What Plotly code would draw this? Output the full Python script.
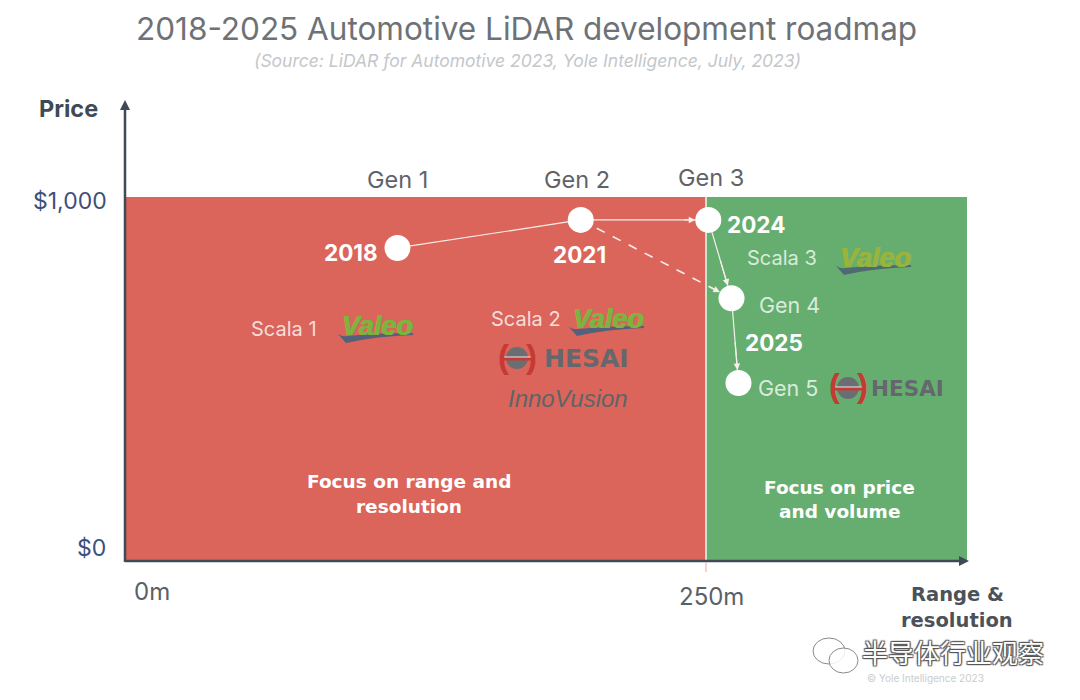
import plotly.graph_objects as go

W, H = 1080, 700
FONT = "Inter, Lato, sans-serif"
WIDE = "DejaVu Sans"

zone_names = ["Focus on range and resolution", "Focus on price and volume"]
zone_start_m = [0, 250]
zone_end_m = [250, 362.5]
zone_price = [1000, 1000]
zone_colors = ["#DB655B", "#66AE70"]

node_names = ["Gen 1", "Gen 2", "Gen 3", "Gen 4", "Gen 5"]
node_range_m = [117, 196, 251, 261, 264]
node_price = [860, 937, 937, 722, 489]

price_ticks = ["$1,000", "$0"]
range_ticks = ["0m", "250m"]

# data -> figure mapping: 0 m at px 126, 250 m at px 706; $0 at px 561, $1,000 at px 197
X_PER_PX = 250 / 580
Y_PER_PX = 1000 / 364
x_range = [-126 * X_PER_PX, (W - 126) * X_PER_PX]
y_range = [(561 - H) * Y_PER_PX, 561 * Y_PER_PX]

fig = go.Figure()
fig.add_trace(go.Bar(
    x=[(a + b) / 2 for a, b in zip(zone_start_m, zone_end_m)],
    width=[b - a for a, b in zip(zone_start_m, zone_end_m)],
    y=zone_price, marker=dict(color=zone_colors, line_width=0),
    hoverinfo="skip", showlegend=False))

# white separator
fig.add_trace(go.Scatter(x=[250, 250], y=[0, 1000], mode="lines",
                         line=dict(color="#F3F7F2", width=1.5), showlegend=False, hoverinfo="skip"))
# links
for i, j, dash in [(0, 1, "solid"), (1, 2, "solid"), (2, 3, "solid"), (3, 4, "solid"), (1, 3, "dash")]:
    fig.add_trace(go.Scatter(x=[node_range_m[i], node_range_m[j]], y=[node_price[i], node_price[j]],
                             mode="lines", line=dict(color="#F6EFEA", width=1.2 if dash == "solid" else 1.6, dash=dash),
                             showlegend=False, hoverinfo="skip"))
fig.add_trace(go.Scatter(x=node_range_m, y=node_price, mode="markers", text=node_names,
                         marker=dict(color="white", size=26), showlegend=False, hoverinfo="text"))

ann, shp = [], []


def px(x):
    return x / W


def py(y):
    return 1 - y / H


def txt(cx, cy, s, size, color, bold=False, italic=False, family=FONT, anchor="center", shadow=None):
    t = s
    if bold:
        t = f"<b>{t}</b>"
    if italic:
        t = f"<i>{t}</i>"
    f = dict(size=size, color=color, family=family)
    if shadow:
        f["shadow"] = shadow
    ann.append(dict(x=px(cx), y=py(cy), xref="paper", yref="paper", text=t, showarrow=False,
                    xanchor=anchor, yanchor="middle", font=f, align="center", borderpad=0, borderwidth=0))


def arrow(i, j, frac=0.0, color="#F6EFEA"):
    x0 = node_range_m[i] + (node_range_m[j] - node_range_m[i]) * frac
    y0 = node_price[i] + (node_price[j] - node_price[i]) * frac
    ann.append(dict(x=node_range_m[j], y=node_price[j], ax=x0, ay=y0, xref="x", yref="y", axref="x", ayref="y",
                    text="", showarrow=True, arrowhead=2, arrowsize=1.1, arrowwidth=1.2, arrowcolor=color, standoff=13))


arrow(1, 2, 0.8)
arrow(2, 3, 0.5)
arrow(3, 4, 0.5)
arrow(1, 3, 0.85)


def line(x0, y0, x1, y1, color, width):
    shp.append(dict(type="line", xref="paper", yref="paper", x0=px(x0), y0=py(y0), x1=px(x1), y1=py(y1),
                    line=dict(color=color, width=width)))


AXIS = "#3E4A56"
line(125, 562, 125, 108, AXIS, 2.5)
line(125, 561, 962, 561, AXIS, 2.5)
line(706, 562, 706, 572, "#E9A9A3", 1)
for path, col in [(f"M {px(120)} {py(110)} L {px(125)} {py(100)} L {px(130)} {py(110)} Z", AXIS),
                  (f"M {px(959)} {py(556)} L {px(969)} {py(561)} L {px(959)} {py(566)} Z", AXIS)]:
    shp.append(dict(type="path", xref="paper", yref="paper", path=path, fillcolor=col, line_width=0))

# titles
txt(526, 28, "2018-2025 Automotive LiDAR development roadmap", 31.5, "#6E7276")
txt(527, 60, "(Source: LiDAR for Automotive 2023, Yole Intelligence, July, 2023)", 17.5, "#C4C7CA", italic=True)
txt(68, 109, "Price", 23.5, "#3E4A56", bold=True)

# ticks
txt(70, 201, price_ticks[0], 23, "#3D5079")
txt(91, 548, price_ticks[1], 23, "#3D5079")
txt(152, 591, range_ticks[0], 24, "#5A6068")
txt(711, 596, range_ticks[1], 24, "#5A6068")
txt(957, 594, "Range &", 19.5, "#4A525A", bold=True, family=WIDE)
txt(957, 620, "resolution", 19.5, "#4A525A", bold=True, family=WIDE)

# generation labels
txt(397, 180, "Gen 1", 23.5, "#5F6368")
txt(577, 179, "Gen 2", 23.5, "#5F6368")
txt(711, 178, "Gen 3", 23.5, "#5F6368")
txt(789, 305, "Gen 4", 21.5, "#D9EBDB")
txt(788, 388, "Gen 5", 21.5, "#D9EBDB")

# years
txt(351, 252, "2018", 22.5, "white", bold=True)
txt(579, 254, "2021", 22.5, "white", bold=True)
txt(756, 224, "2024", 22.5, "white", bold=True)
txt(774, 342, "2025", 22.5, "white", bold=True)

# scala labels
txt(284, 329, "Scala 1", 20, "#F6DDD9")
txt(526, 319, "Scala 2", 20, "#F6DDD9")
txt(782, 258, "Scala 3", 20, "#D9EBDB")

# focus
txt(409, 481, "Focus on range and", 18.5, "white", bold=True, family=WIDE)
txt(409, 506, "resolution", 18.5, "white", bold=True, family=WIDE)
txt(839, 487, "Focus on price", 18.5, "white", bold=True, family=WIDE)
txt(839, 511, "and volume", 18.5, "white", bold=True, family=WIDE)


def valeo(cx, cy, green, blue):
    txt(cx, cy, "Valeo", 27, green, bold=True, italic=True, family="Liberation Sans",
        shadow=f"0.6px 0 0 {green}, -0.6px 0 0 {green}")
    l, r = cx - 39, cx + 36
    top = cy + 8
    p = (f"M {px(l)} {py(top)} Q {px(l + 5)} {py(top + 3)} {px(l + 9)} {py(top + 2)} "
         f"Q {px(cx)} {py(top - 1)} {px(r)} {py(top - 1)} L {px(r)} {py(top + 1)} "
         f"Q {px(cx)} {py(top + 2)} {px(l + 8)} {py(top + 9)} Z")
    shp.append(dict(type="path", xref="paper", yref="paper", path=p, fillcolor=blue, line_width=0))


valeo(377, 326, "#7DB33F", "#55607A")
valeo(608, 319, "#7DB33F", "#55607A")
valeo(875, 258, "#98B43C", "#4F6A72")


def hesai(cx, cy, textx, size, red="#C63A34"):
    shp.append(dict(type="circle", xref="paper", yref="paper", x0=px(cx - 11), x1=px(cx + 11),
                    y0=py(cy - 11), y1=py(cy + 11), fillcolor="#6A6E72", line_width=0))
    line(cx - 15, cy, cx + 15, cy, "#F0E6E4", 3)
    line(cx - 16, cy + 1, cx + 16, cy + 1, red, 3)
    for s, dx in [("(", -14), (")", 14)]:
        txt(cx + dx, cy - 2, s, 33, red, bold=True, family="Liberation Sans")
    txt(textx, cy, "HESAI", size, "#64686C", bold=True, family="DejaVu Sans")


hesai(517, 358, 586, 25)
hesai(848, 388, 907, 21.5)

txt(568, 399, "InnoVusion", 24, "#5E6468", italic=True, family="Liberation Sans")

# watermark
for x0, y0, x1, y1 in [(813, 638, 845, 664), (829, 648, 858, 673)]:
    shp.append(dict(type="circle", xref="paper", yref="paper", x0=px(x0), x1=px(x1), y0=py(y0), y1=py(y1),
                    fillcolor="rgba(255,255,255,0.85)", line=dict(color="#8A8A8A", width=1)))
txt(925, 678, "© Yole Intelligence 2023", 10, "#C9CCCF")
txt(953, 651, "半导体行业观察", 26, "#FFFFFF", family="Noto Sans CJK SC",
    shadow="1px 1px 1px #555, -1px -1px 1px #555, 1px -1px 1px #555, -1px 1px 1px #555")

fig.update_layout(
    width=W, height=H, margin=dict(l=0, r=0, t=0, b=0), paper_bgcolor="white", plot_bgcolor="white",
    xaxis=dict(range=x_range, visible=False, fixedrange=True),
    yaxis=dict(range=y_range, visible=False, fixedrange=True),
    showlegend=False, annotations=ann, shapes=shp, bargap=0,
)
fig.write_html("out.html", config=dict(displayModeBar=False),
               post_script="document.body.style.margin='0';")
